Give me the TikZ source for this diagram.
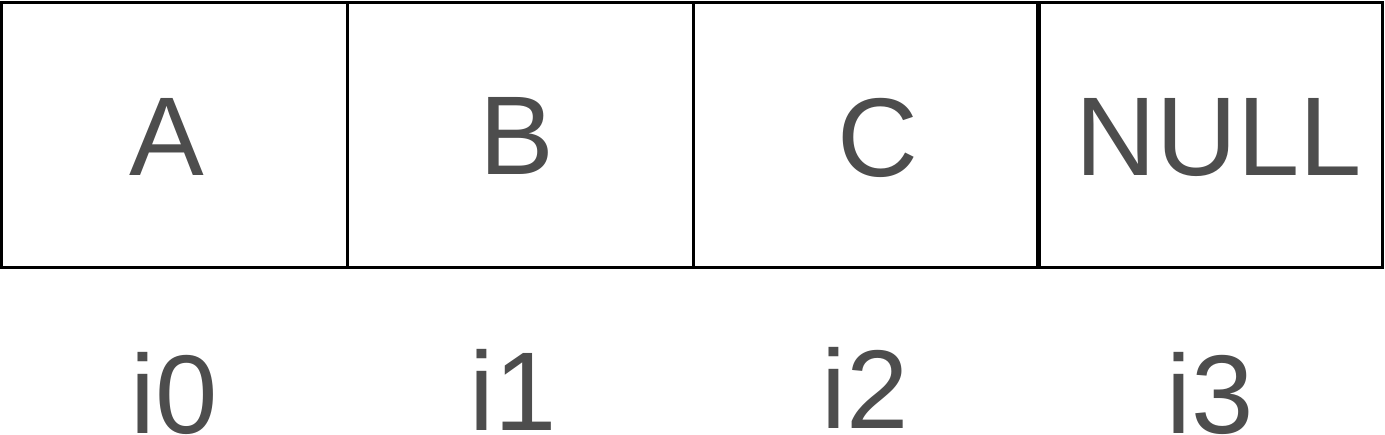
\documentclass[tikz,border=0pt]{standalone}
\usepackage{fontspec}
\setmainfont{Liberation Sans}
\definecolor{txtgray}{HTML}{4D4D4D}
\begin{document}
\begin{tikzpicture}[x=1pt,y=1pt,
  cell/.style={draw=black, line width=3pt, inner sep=0pt, fill=none},
  big/.style={text=txtgray, inner sep=0pt, anchor=base, font=\fontsize{112}{134}\selectfont}]
\useasboundingbox (0,0) rectangle (1385,-434);
% cells
\node[cell, minimum width=346pt, minimum height=265pt] (c0) at (174.5,-134.5) {};
\node[cell, minimum width=345.5pt, minimum height=265pt] (c1) at (520.25,-134.5) {};
\node[cell, minimum width=344pt, minimum height=265pt] (c2) at (865,-134.5) {};
\node[cell, minimum width=343pt, minimum height=265pt] (c3) at (1211,-134.5) {};
% contents
\node[big] (tA) at (167,-175.5) {A};
\node[big] (tB) at (517,-174) {B};
\node[big] (tC) at (878,-176) {C};
\node[big] (tN) at (1219,-175.5) {NULL};
% indices
\node[big] (i0) at (174,-433) {i0};
\node[big] (i1) at (513,-430.5) {i1};
\node[big] (i2) at (865,-428) {i2};
\node[big] (i3) at (1210,-433) {i3};
\end{tikzpicture}
\end{document}
